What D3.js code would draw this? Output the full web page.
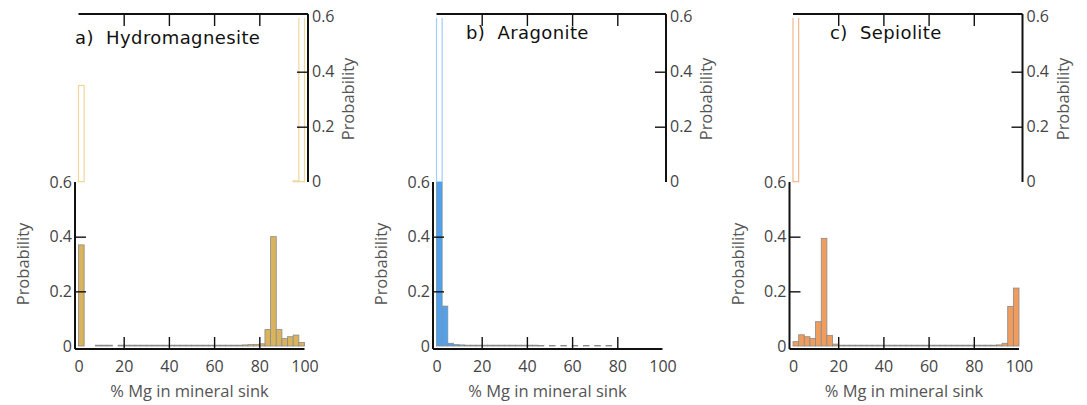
<!DOCTYPE html>
<html>
<head>
<meta charset="utf-8">
<script src="https://cdn.jsdelivr.net/npm/d3@7"></script>
<style>
  body { margin: 0; background: #fff; }
  svg { display: block; }
</style>
</head>
<body>
<svg id="chart"></svg>
<script>
// bin left edges, % Mg (2.5 wide bins)
const binStarts = [0, 2.5, 5, 7.5, 10, 12.5, 15, 17.5, 20, 22.5, 25, 27.5, 30, 32.5, 35, 37.5,
  40, 42.5, 45, 47.5, 50, 52.5, 55, 57.5, 60, 62.5, 65, 67.5, 70, 72.5, 75, 77.5,
  80, 82.5, 85, 87.5, 90, 92.5, 95, 97.5];
const binWidth = 2.5;

const panelTitles = ['a)  Hydromagnesite', 'b)  Aragonite', 'c)  Sepiolite'];
const xTicks = [0, 20, 40, 60, 80, 100];
const yTicks = [0, 0.2, 0.4, 0.6];

// lower histograms (filled)
const hydroLower = [0.37, 0, 0, 0.003, 0.003, 0.003, 0, 0.003, 0.003, 0.003, 0.003, 0.003, 0.003, 0.003, 0.003, 0.003,
  0.003, 0.003, 0.003, 0.003, 0.003, 0.003, 0.003, 0.003, 0.003, 0.003, 0.003, 0.003, 0.003, 0.004, 0.005, 0.006,
  0.008, 0.06, 0.40, 0.06, 0.027, 0.034, 0.04, 0.013];
const aragLower = [0.8, 0.146, 0.01, 0.005, 0.004, 0.003, 0.003, 0.003, 0.003, 0.003, 0.003, 0.003, 0.003, 0.003, 0.003, 0.003,
  0.003, 0.003, 0.002, 0, 0.002, 0, 0.002, 0, 0.002, 0, 0.002, 0, 0.002, 0, 0.002, 0,
  0, 0, 0, 0, 0, 0, 0, 0];
const sepLower = [0.016, 0.041, 0.034, 0.028, 0.089, 0.394, 0.039, 0.007, 0.003, 0.003, 0.003, 0.003, 0.003, 0.003, 0.003, 0.003,
  0.003, 0.003, 0.003, 0.003, 0.003, 0.003, 0.003, 0.003, 0.003, 0.003, 0.003, 0.003, 0.003, 0.003, 0.003, 0.003,
  0.003, 0.003, 0.003, 0.003, 0.004, 0.01, 0.145, 0.212];

// upper histograms (outline only, right axis)
const hydroUpper = [0.35, 0, 0, 0, 0, 0, 0, 0, 0, 0, 0, 0, 0, 0, 0, 0,
  0, 0, 0, 0, 0, 0, 0, 0, 0, 0, 0, 0, 0, 0, 0, 0,
  0, 0, 0, 0, 0, 0, 0.003, 0.7];
const aragUpper = [0.7, 0, 0, 0, 0, 0, 0, 0, 0, 0, 0, 0, 0, 0, 0, 0,
  0, 0, 0, 0, 0, 0, 0, 0, 0, 0, 0, 0, 0, 0, 0, 0,
  0, 0, 0, 0, 0, 0, 0, 0];
const sepUpper = [0.7, 0, 0, 0, 0, 0, 0, 0, 0, 0, 0, 0, 0, 0, 0, 0,
  0, 0, 0, 0, 0, 0, 0, 0, 0, 0, 0, 0, 0, 0, 0, 0,
  0, 0, 0, 0, 0, 0, 0, 0];

const fills = ['#dab45c', '#4ea2ef', '#f09c5c'];
const outlines = ['#f0d89c', '#9fcdfb', '#f4b78f'];

const panels = [
  { title: panelTitles[0], lower: hydroLower, upper: hydroUpper, x0: 78.5, tx: 75, ty: 44 },
  { title: panelTitles[1], lower: aragLower, upper: aragUpper, x0: 436.5, tx: 466, ty: 38.5 },
  { title: panelTitles[2], lower: sepLower, upper: sepUpper, x0: 793, tx: 830, ty: 39 }
];

const width = 1087, height = 405;
const svg = d3.select('#chart').attr('width', width).attr('height', height);
const tickFont = '"Open Sans", sans-serif';
const fmt = d => d === 0 ? '0' : d3.format('.1f')(d);

panels.forEach((p, i) => {
  const g = svg.append('g');
  const x = d3.scaleLinear().domain([0, 100]).range([p.x0, p.x0 + 226]);
  const yLow = d3.scaleLinear().domain([0, 0.6]).range([346, 182]);
  const yUp = d3.scaleLinear().domain([0, 0.6]).range([181.7, 16.7]);
  const leftX = p.x0 - 3.5, rightX = p.x0 + 229.5, bottomY = 349, topY = 14;

  // clips
  const defs = g.append('defs');
  defs.append('clipPath').attr('id', 'lo' + i).append('rect')
    .attr('x', leftX).attr('y', 182).attr('width', 240).attr('height', 167);
  defs.append('clipPath').attr('id', 'up' + i).append('rect')
    .attr('x', leftX).attr('y', 18).attr('width', 240).attr('height', 170);

  // upper outline bars
  g.append('g').attr('clip-path', `url(#up${i})`)
    .selectAll('rect')
    .data(binStarts.map((b, k) => ({ b, v: p.upper[k] })).filter(d => d.v > 0))
    .enter().append('rect')
    .attr('x', d => x(d.b))
    .attr('y', d => yUp(d.v))
    .attr('width', d => x(d.b + binWidth) - x(d.b))
    .attr('height', d => yUp(0) - yUp(d.v))
    .attr('fill', 'none')
    .attr('stroke', outlines[i])
    .attr('stroke-width', 1.2);

  // lower filled bars
  g.append('g').attr('clip-path', `url(#lo${i})`)
    .selectAll('rect')
    .data(binStarts.map((b, k) => ({ b, v: p.lower[k] })).filter(d => d.v > 0))
    .enter().append('rect')
    .attr('x', d => x(d.b))
    .attr('y', d => yLow(d.v))
    .attr('width', d => x(d.b + binWidth) - x(d.b))
    .attr('height', d => yLow(0) - yLow(d.v))
    .attr('fill', fills[i])
    .attr('stroke', '#8a8a8a')
    .attr('stroke-width', 0.8);

  // bottom axis
  const bx = g.append('g').attr('transform', `translate(0,${bottomY})`)
    .call(d3.axisBottom(x).tickValues(xTicks).tickSize(-12).tickPadding(12).tickSizeOuter(0));
  // left axis
  const ly = g.append('g').attr('transform', `translate(${leftX},0)`)
    .call(d3.axisLeft(yLow).tickValues(yTicks).tickFormat(fmt).tickSize(-11).tickPadding(3).tickSizeOuter(0));
  // right axis (upper)
  const ry = g.append('g').attr('transform', `translate(${rightX},0)`)
    .call(d3.axisRight(yUp).tickValues(yTicks).tickFormat(fmt).tickSize(-11).tickPadding(4).tickSizeOuter(0));
  // top axis (upper)
  const tx = g.append('g').attr('transform', `translate(0,${topY})`)
    .call(d3.axisTop(x).tickValues(xTicks).tickFormat('').tickSize(-12).tickSizeOuter(0));

  [bx, ly, ry, tx].forEach(a => {
    a.select('.domain').remove();
    a.selectAll('.tick line').attr('stroke', '#111').attr('stroke-width', 1.4);
    a.selectAll('.tick text').attr('fill', '#444').style('font-family', tickFont).style('font-size', '16px');
  });
  bx.selectAll('.tick line').filter(d => d === 0 || d === 100).remove();
  tx.selectAll('.tick line').filter(d => d === 0 || d === 100).remove();
  ly.selectAll('.tick line').filter(d => d === 0 || d === 0.6).remove();
  ry.selectAll('.tick line').filter(d => d === 0 || d === 0.6).remove();

  // axis lines
  const line = (x1, y1, x2, y2) => g.append('line')
    .attr('x1', x1).attr('y1', y1).attr('x2', x2).attr('y2', y2)
    .attr('stroke', '#111').attr('stroke-width', 2);
  line(leftX, 182, leftX, bottomY);
  line(leftX, bottomY, x(100), bottomY);
  line(p.x0, topY, rightX, topY);
  line(rightX, topY, rightX, 182);

  // labels
  g.append('text')
    .attr('x', x(50) - 2).attr('y', 397)
    .attr('text-anchor', 'middle')
    .attr('fill', '#555')
    .style('font-family', tickFont).style('font-size', '16.5px')
    .text('% Mg in mineral sink');
  g.append('text')
    .attr('transform', `translate(${leftX - 46},${264}) rotate(-90)`)
    .attr('text-anchor', 'middle')
    .attr('fill', '#555')
    .style('font-family', tickFont).style('font-size', '16.5px')
    .text('Probability');
  g.append('text')
    .attr('transform', `translate(${rightX + 46},${99}) rotate(-90)`)
    .attr('text-anchor', 'middle')
    .attr('fill', '#555')
    .style('font-family', tickFont).style('font-size', '16.5px')
    .text('Probability');

  g.append('text')
    .attr('x', p.tx).attr('y', p.ty)
    .attr('fill', '#111')
    .style('white-space', 'pre')
    .style('letter-spacing', '0.4px')
    .style('font-family', '"DejaVu Sans", sans-serif').style('font-size', '18px')
    .text(p.title);
});
</script>
</body>
</html>
